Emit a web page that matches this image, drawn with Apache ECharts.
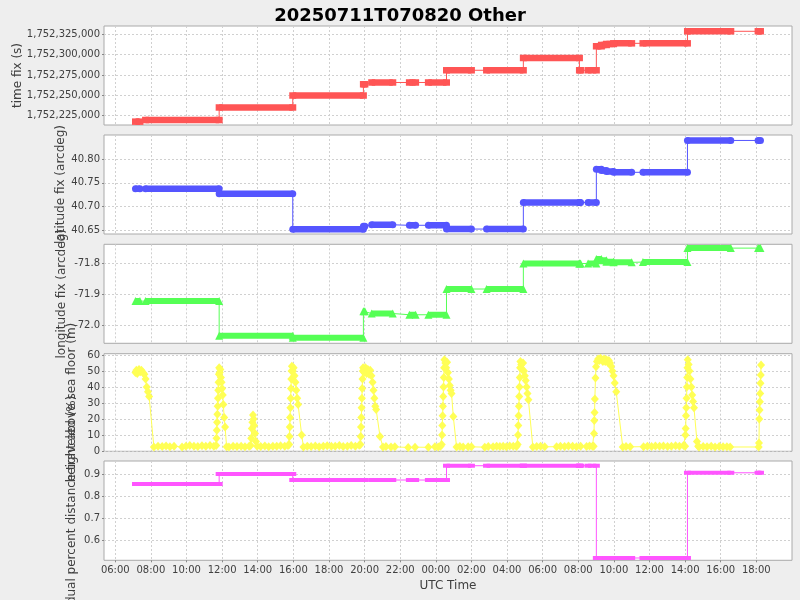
<!DOCTYPE html>
<html><head><meta charset="utf-8">
<script src="https://cdn.jsdelivr.net/npm/echarts@6/dist/echarts.min.js"></script>
<style>html,body{margin:0;padding:0;background:#eeeeee}#c{width:800px;height:600px}</style>
</head><body><div id="c"></div>
<script>
// ---- data (times are "DD HH:MM" in UTC, July 2025) ----
const runStart = ['11 07:08','11 07:42','11 11:50','11 15:58','11 19:56','11 20:24','11 22:31','11 23:35','12 00:36','12 02:51','12 04:55','12 08:04','12 08:33','12 09:01','12 09:18','12 09:35','12 09:59','12 11:38','12 14:08','12 18:06'];
const runEnd   = ['11 07:23','11 11:50','11 15:58','11 19:56','11 20:01','11 21:35','11 22:52','12 00:36','12 02:00','12 04:55','12 08:04','12 08:08','12 09:01','12 09:18','12 09:35','12 09:59','12 11:00','12 14:08','12 16:34','12 18:14'];
const timeFixValues = [1752217700,1752219700,1752235100,1752249800,1752263600,1752265800,1752265800,1752265800,1752280800,1752280800,1752295900,1752280800,1752280800,1752310300,1752311900,1752313100,1752313900,1752313900,1752328700,1752328700];
const latValues = [40.7373,40.7373,40.7267,40.6515,40.658,40.661,40.660,40.660,40.652,40.652,40.7085,40.7085,40.7085,40.7788,40.776,40.774,40.7724,40.7724,40.840,40.840];
const lonValues = [-71.922,-71.922,-72.034,-72.040,-71.955,-71.962,-71.966,-71.966,-71.883,-71.883,-71.8006,-71.8006,-71.8006,-71.786,-71.790,-71.795,-71.797,-71.796,-71.751,-71.751];
const pctValues = [0.8559,0.8559,0.9014,0.8741,0.8741,0.8741,0.874,0.874,0.939,0.939,0.939,0.939,0.939,0.5195,0.5195,0.5195,0.5195,0.5195,0.907,0.907];

const heightTimes = ['11 07:08','11 07:11','11 07:14','11 07:17','11 07:20','11 07:24','11 07:28','11 07:33','11 07:38','11 07:42','11 07:46','11 07:50','11 07:54',
'11 08:10','11 08:24','11 08:38','11 08:51','11 09:04','11 09:18','11 09:45','11 09:58','11 10:11','11 10:25','11 10:38','11 10:52','11 11:05','11 11:19','11 11:32',
'11 11:40','11 11:41','11 11:42','11 11:43','11 11:44','11 11:45','11 11:46','11 11:47','11 11:48','11 11:49','11 11:50','11 11:52','11 11:54','11 11:56','11 11:58','11 12:00','11 12:02','11 12:04','11 12:07','11 12:10','11 12:15',
'11 12:23','11 12:37','11 12:50','11 13:04','11 13:17','11 13:31','11 13:36','11 13:38','11 13:40','11 13:42','11 13:44','11 13:46','11 13:48','11 13:51','11 13:54','11 13:58',
'11 14:10','11 14:24','11 14:37','11 14:51','11 15:04','11 15:17','11 15:31','11 15:42',
'11 15:46','11 15:47','11 15:48','11 15:49','11 15:50','11 15:51','11 15:52','11 15:53','11 15:54','11 15:55','11 15:58','11 16:01','11 16:04','11 16:07','11 16:10','11 16:13','11 16:16','11 16:28','11 16:34',
'11 16:47','11 17:00','11 17:14','11 17:27','11 17:41','11 17:54','11 18:08','11 18:21','11 18:35','11 18:48','11 19:02','11 19:15','11 19:29','11 19:42',
'11 19:46','11 19:47','11 19:48','11 19:49','11 19:50','11 19:51','11 19:52','11 19:53','11 19:54','11 19:55','11 19:59','11 20:03','11 20:07','11 20:11','11 20:15','11 20:19','11 20:23','11 20:27','11 20:30','11 20:33','11 20:36','11 20:39','11 20:52',
'11 21:02','11 21:12','11 21:29','11 21:42','11 22:27','11 22:50','11 23:35','11 23:57','12 00:08','12 00:16',
'12 00:20','12 00:21','12 00:22','12 00:23','12 00:24','12 00:25','12 00:26','12 00:27','12 00:28','12 00:29','12 00:32','12 00:35','12 00:38','12 00:41','12 00:44','12 00:47','12 00:50','12 00:53','12 00:59',
'12 01:10','12 01:21','12 01:32','12 01:49','12 02:00','12 02:45','12 02:57','12 03:13','12 03:25','12 03:36','12 03:47','12 03:58','12 04:09','12 04:21','12 04:32',
'12 04:36','12 04:37','12 04:38','12 04:39','12 04:40','12 04:41','12 04:42','12 04:43','12 04:44','12 04:45','12 04:48','12 04:51','12 04:54','12 04:57','12 05:00','12 05:03','12 05:06','12 05:09','12 05:12',
'12 05:27','12 05:40','12 05:53','12 06:07','12 06:47','12 07:00','12 07:14','12 07:27','12 07:41','12 07:54','12 08:08','12 08:28','12 08:38','12 08:48',
'12 08:52','12 08:53','12 08:54','12 08:55','12 08:56','12 08:58','12 09:00','12 09:03','12 09:07','12 09:11','12 09:15','12 09:19','12 09:23','12 09:27','12 09:31','12 09:35','12 09:39','12 09:43','12 09:47','12 09:51','12 09:55','12 09:59','12 10:03','12 10:08',
'12 10:30','12 10:41','12 10:55','12 11:40','12 11:53','12 12:07','12 12:20','12 12:34','12 12:47','12 13:01','12 13:14','12 13:28','12 13:41','12 13:55',
'12 14:00','12 14:01','12 14:02','12 14:03','12 14:04','12 14:05','12 14:06','12 14:07','12 14:08','12 14:09','12 14:12','12 14:15','12 14:18','12 14:21','12 14:24','12 14:27','12 14:30','12 14:40','12 14:44',
'12 14:47','12 15:01','12 15:14','12 15:28','12 15:41','12 15:55','12 16:08','12 16:21','12 16:32',
'12 18:08','12 18:09','12 18:10','12 18:11','12 18:12','12 18:13','12 18:14','12 18:15','12 18:16'];
const heightValues = [49,50.5,48.5,50,51,49.5,50.5,49,48,45,40,37,34,
2.5,3,2.8,3.2,2.6,3,2.5,3,3.5,3,2.8,3.3,3,3.5,3,
3.5,8,13,18,23,28,33,38,43,48,52,49,51,46,43,39,35,29,21,15,2.7,
2.5,3,2.8,3,2.6,3,3.5,8,14,18,22.5,20,16,11,6,3,
2.8,3.2,2.7,3,2.9,3.3,3,3.5,
4,9,15,21,27,33,39,45,50,53,50,52,47,43,38,33,29,10,2.5,
3,2.8,3.2,2.7,3,3.3,2.9,3,3.4,2.8,3,3.5,3,3.6,
4,9,15,21,27,33,39,45,50,52,49,52,48.5,51,48,50.5,47,43,38,33,28,26,9,
2.5,2.8,2.5,2.6,2.2,2.4,2.3,2.6,2.5,3,
4,10,16,22,28,34,40,46,52,57,55,52,55.5,49,45,41,38,36,21.5,
2.5,2.8,2.5,2.7,2.6,2.4,2.8,2.6,3,2.8,3,2.7,3.2,3,2.8,
4,10,16,22,28,34,40,46,52,56,54,51,55,50,47,44,40,36,32,
2.5,2.8,3,2.6,2.7,3,2.8,3.2,3,2.7,3,2.8,3.2,3,
3,11,19,24,32.5,45.6,52.7,56,57.5,56.5,58,57,56,57.5,56,57,55.5,56.5,55,53,50,47,42.5,37,
2.5,2.8,2.6,2.7,3,2.8,3.1,2.9,3.2,2.8,3,3.3,3,3.4,
3,10,14,22,27,33,40,46,52,57,54,50,45,40,35,31,27,6,3,
2.5,2.8,2.6,2.9,2.5,2.8,2.6,2.7,2.5,
2.5,5,20,25.6,30.8,36,42.3,47.5,53.8];

const xTickTimes = ['11 06:00','11 08:00','11 10:00','11 12:00','11 14:00','11 16:00','11 18:00','11 20:00','11 22:00','12 00:00','12 02:00','12 04:00','12 06:00','12 08:00','12 10:00','12 12:00','12 14:00','12 16:00','12 18:00'];
const timeFixTicks = [1752225000,1752250000,1752275000,1752300000,1752325000];
const latTicks = [40.65,40.70,40.75,40.80];
const lonTicks = [-72.0,-71.9,-71.8];
const heightTicks = [0,10,20,30,40,50,60];
const pctTicks = [0.6,0.7,0.8,0.9];

// ---- build ----
const P = s => Date.UTC(2025, 6, +s.slice(0,2), +s.slice(3,5), +s.slice(6,8));
const xMin = Date.UTC(2025,6,11,5,21,56), xMax = Date.UTC(2025,6,12,20,0,16);
const xTickVals = xTickTimes.map(P);
const gridPos = [[26,99],[135,99],[244.3,99],[353.7,97.6],[461,99.3]];
const FONT = 'DejaVu Sans';
const pad = n => (n < 10 ? '0' : '') + n;

function thin(vals){ const d=[]; vals.forEach((v,i)=>{ d.push([P(runStart[i]),v],[P(runEnd[i]),v]); }); return d; }
function thick(vals){ const d=[]; vals.forEach((v,i)=>{ d.push([P(runStart[i]),v],[P(runEnd[i]),v],[P(runEnd[i])+1,'-']); }); return d; }

const grid = gridPos.map(g => ({left:104, right:8, top:g[0], height:g[1], show:true, backgroundColor:'#ffffff', borderColor:'#aaaaaa', borderWidth:1, containLabel:false, outerBoundsMode:'none'}));

const split = {show:true, lineStyle:{color:'#d0d0d0', width:1, type:[2,2]}};
const xAxis = gridPos.map((g,i) => ({
  type:'value', gridIndex:i, min:xMin, max:xMax,
  axisLine:{show:false},
  axisTick:{show:i===4, length:2, lineStyle:{color:'#888'}, customValues:xTickVals},
  axisLabel:{show:i===4, customValues:xTickVals, fontFamily:FONT, fontSize:10, color:'#404040', margin:5,
    formatter:v=>{const d=new Date(v); return pad(d.getUTCHours())+':'+pad(d.getUTCMinutes());}},
  splitLine:split,
  name: i===4 ? 'UTC Time' : '', nameLocation:'middle', nameGap:20, nameMoveOverlap:false,
  nameTextStyle:{fontFamily:FONT, fontSize:12, color:'#404040'}
}));

function yax(i, min, max, ticks, fmt, name, gap){
  return {type:'value', gridIndex:i, min, max,
    axisLine:{show:false},
    axisTick:{show:true, length:2, lineStyle:{color:'#888'}, customValues:ticks},
    axisLabel:{customValues:ticks, formatter:fmt, fontFamily:FONT, fontSize:10, color:'#404040', margin:4},
    splitLine:split, name, nameLocation:'middle', nameGap:gap, nameMoveOverlap:false,
    nameTextStyle:{fontFamily:FONT, fontSize:12, color:'#404040'}};
}
const yAxis = [
  yax(0, 1752213575, 1752335197, timeFixTicks, v=>Math.round(v).toString().replace(/\B(?=(\d{3})+(?!\d))/g, ','), 'time fix (s)', 80),
  yax(1, 40.6415, 40.8516, latTicks, v=>v.toFixed(2), 'latitude fix (arcdeg)', 37),
  yax(2, -72.0581, -71.7387, lonTicks, v=>v.toFixed(1), 'longitude fix (arcdeg)', 36),
  yax(3, -0.19, 60.81, heightTicks, v=>String(Math.round(v)), 'height above sea floor (m)', 26),
  yax(4, 0.509, 0.9605, pctTicks, v=>v.toFixed(1), 'residual percent distance traveled (%)', 26)
];

const colors = ['#FF5555','#5555FF','#55FF55','#FFFF55','#FF55FF'];
function pair(i, vals, w, sym, symSize){
  return [
    {type:'line', xAxisIndex:i, yAxisIndex:i, data:thin(vals), symbol:'none', lineStyle:{color:colors[i], width:1}, silent:true, animation:false, z:2},
    {type:'line', xAxisIndex:i, yAxisIndex:i, data:thick(vals), connectNulls:false, symbol:sym, symbolSize:symSize, showSymbol:true,
     itemStyle:{color:colors[i], borderWidth:0}, lineStyle:{color:colors[i], width:w, cap:'butt'}, silent:true, animation:false, z:3}
  ];
}
const series = [].concat(
  pair(0, timeFixValues, 6.5, 'rect', [7,6.5]),
  pair(1, latValues, 6.5, 'circle', 7),
  pair(2, lonValues, 6, 'triangle', 8),
  [{type:'line', xAxisIndex:3, yAxisIndex:3, data:heightTimes.map((t,k)=>[P(t), heightValues[k]]), symbol:'diamond', symbolSize:[8,9], showSymbol:true,
    itemStyle:{color:colors[3], borderWidth:0}, lineStyle:{color:colors[3], width:1}, silent:true, animation:false, z:3}],
  pair(4, pctValues, 4, 'rect', [7,4])
);

const chart = echarts.init(document.getElementById('c'), null, {renderer:'canvas'});
chart.setOption({
  backgroundColor:'#eeeeee',
  animation:false,
  title:{text:'20250711T070820 Other', left:'center', top:2, textStyle:{fontFamily:FONT, fontWeight:'bold', fontSize:18, color:'#000'}},
  grid, xAxis, yAxis, series
});
</script></body></html>
